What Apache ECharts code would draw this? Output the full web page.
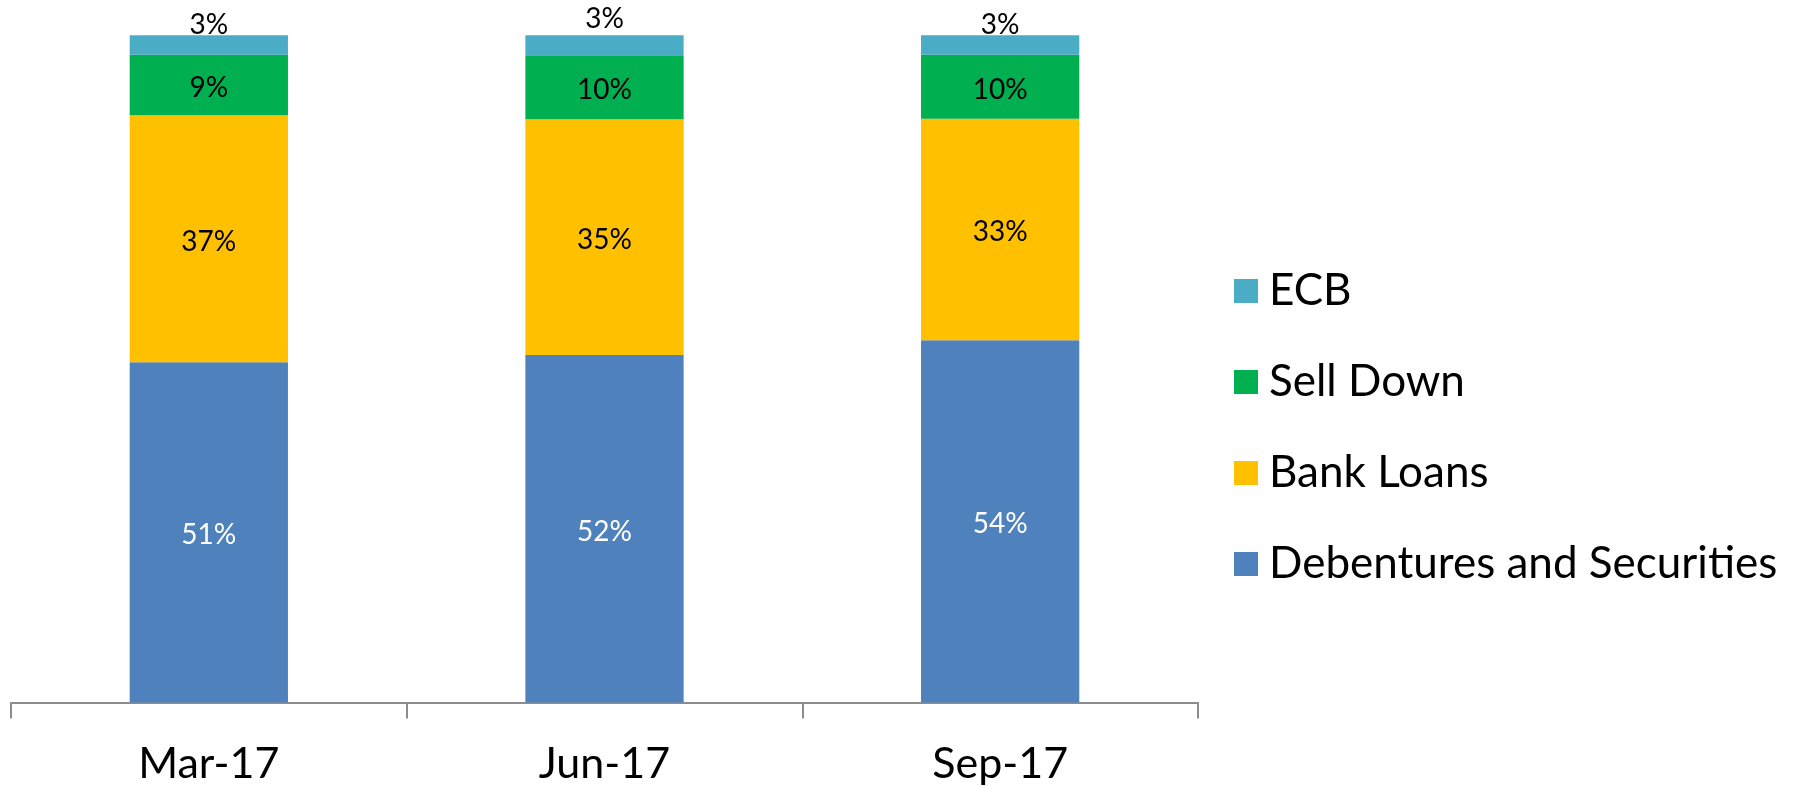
<!DOCTYPE html>
<html>
<head>
<meta charset="utf-8">
<script src="https://cdn.jsdelivr.net/npm/echarts@6/dist/echarts.min.js"></script>
<style>
  html, body { margin: 0; padding: 0; background: #fff; }
  #chart { width: 1802px; height: 787px; }
</style>
</head>
<body>
<div id="chart"></div>
<script>
const categories = ['Mar-17', 'Jun-17', 'Sep-17'];
const debentures = [51.0, 52.1, 54.3];
const bankLoans = [37.0, 35.3, 33.2];
const sellDown = [9.1, 9.6, 9.6];
const ecb = [2.9, 3.0, 2.9];

const font = 'Lato, "Open Sans", sans-serif';

const pct = (p) => Math.round(p.value) + '%';

const chart = echarts.init(document.getElementById('chart'));

function bar(name, data, color, labelColor, extra) {
  return {
    name: name,
    type: 'bar',
    stack: 'total',
    barWidth: '40%',
    data: data,
    itemStyle: { color: color },
    label: Object.assign({
      show: true,
      position: 'inside',
      offset: [0, 3],
      formatter: pct,
      color: labelColor,
      fontFamily: font,
      fontSize: 28
    }, extra || {})
  };
}

// the small top segment labels sit above the bars, Jun-17 a bit higher
const ecbSeries = bar('ECB', ecb.map((v, i) => (i === 1
  ? { value: v, label: { offset: [0, -6] } }
  : v)), '#4BACC6', '#000', { position: 'top', distance: -4, offset: [0, 0] });

chart.setOption({
  animation: false,
  grid: { left: 11, right: 604, top: 35.3, bottom: 84.5 },
  legend: {
    orient: 'vertical',
    left: 1229,
    top: 261,
    itemWidth: 24,
    itemHeight: 24,
    itemGap: 41,
    icon: 'rect',
    data: ['ECB', 'Sell Down', 'Bank Loans', 'Debentures and Securities'],
    textStyle: { fontFamily: font, fontSize: 44, lineHeight: 44, color: '#000', padding: [6, 0, 0, 6] }
  },
  xAxis: {
    type: 'category',
    data: categories,
    axisLine: { lineStyle: { color: '#8c8c8c', width: 2 } },
    axisTick: { show: true, length: 16, lineStyle: { color: '#8c8c8c', width: 2 } },
    axisLabel: { fontFamily: font, fontSize: 43, color: '#000', margin: 40 }
  },
  yAxis: {
    type: 'value',
    min: 0,
    max: 100,
    show: false
  },
  series: [
    bar('Debentures and Securities', debentures, '#4F81BD', '#fff'),
    bar('Bank Loans', bankLoans, '#FFC000', '#000'),
    bar('Sell Down', sellDown, '#00B050', '#000'),
    ecbSeries
  ]
});
</script>
</body>
</html>
